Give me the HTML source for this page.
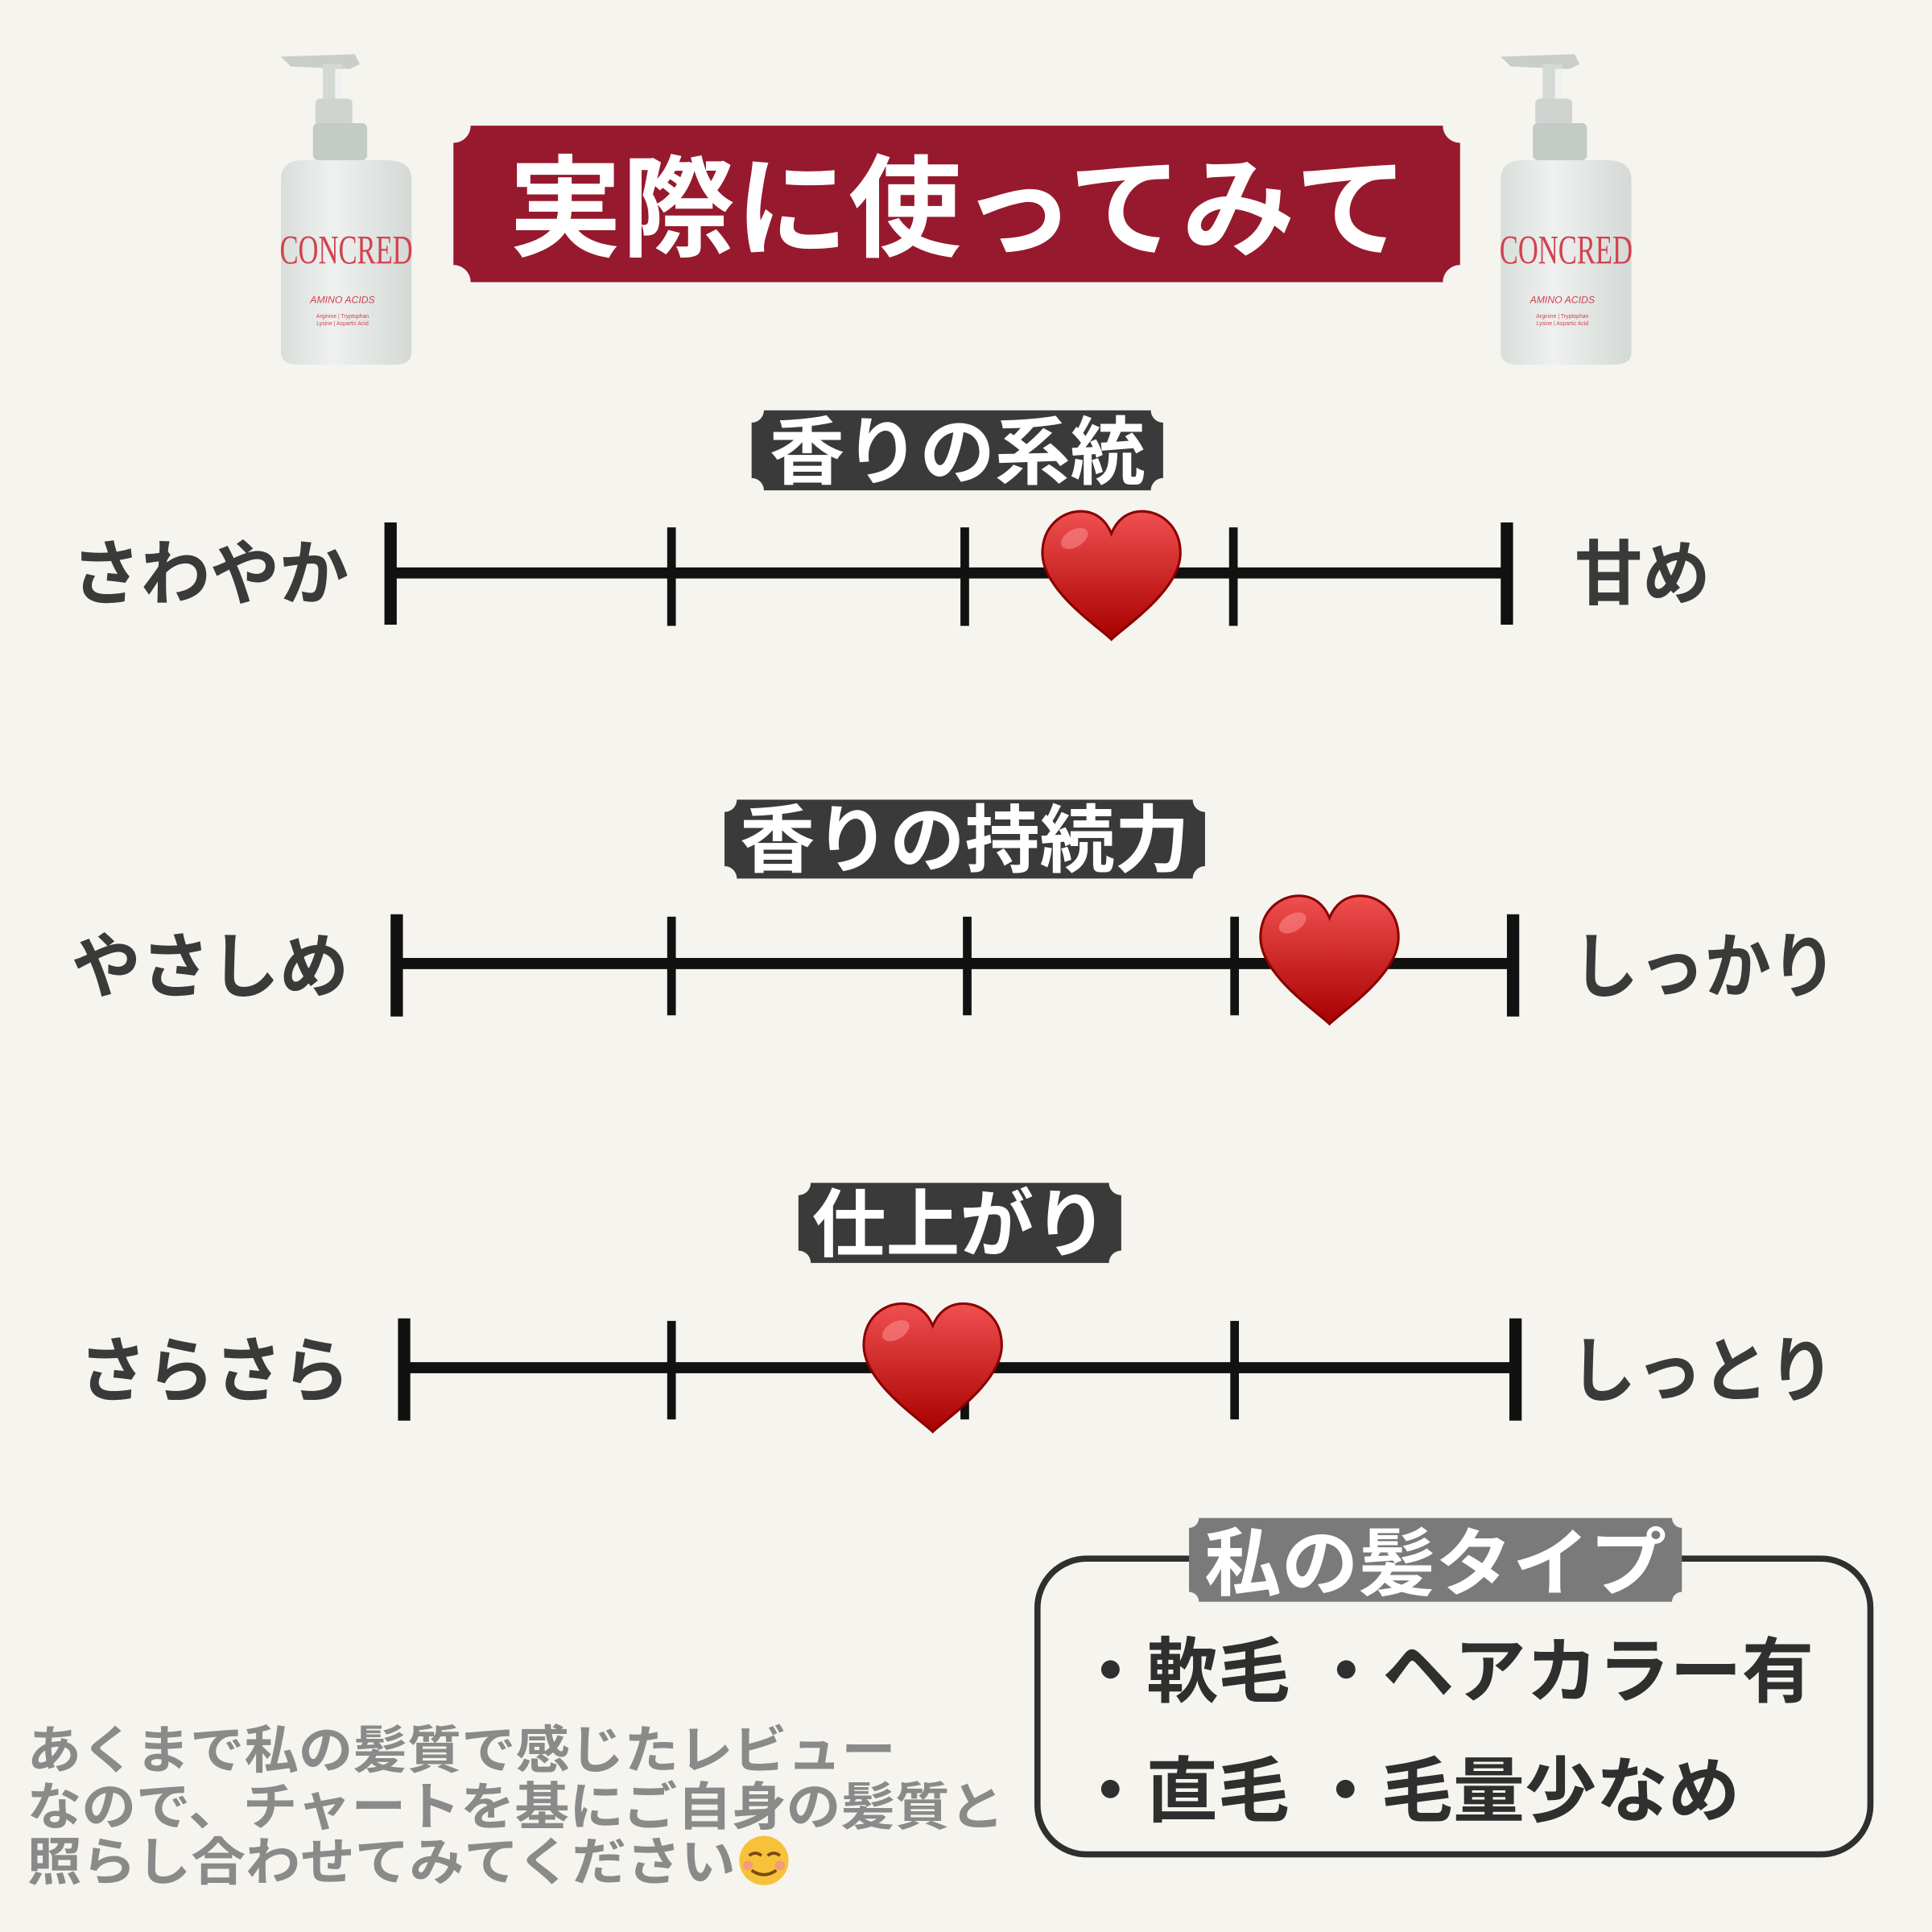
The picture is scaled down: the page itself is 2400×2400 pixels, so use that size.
<!DOCTYPE html>
<html><head><meta charset="utf-8"><style>
html,body{margin:0;padding:0;background:#f6f4ee}
svg{display:block}
text{font-family:"Liberation Sans","Noto Sans CJK JP",sans-serif;font-weight:bold}
</style></head><body>
<svg width="2400" height="2400" viewBox="0 0 1568 1568" xmlns="http://www.w3.org/2000/svg">
<defs>
<linearGradient id="hg" x1="0" y1="0" x2="0" y2="1"><stop offset="0" stop-color="#f05050"/><stop offset="1" stop-color="#a80000"/></linearGradient>
<linearGradient id="bg" x1="0" y1="0" x2="1" y2="0"><stop offset="0" stop-color="#d9dedb"/><stop offset="0.4" stop-color="#eef1ef"/><stop offset="1" stop-color="#d4d9d6"/></linearGradient>
<g id="heart"><path d="M0,52 C-10,42 -56,12 -56,-18 C-56,-40 -40,-52 -25,-52 C-12,-52 -4,-44 0,-34 C4,-44 12,-52 25,-52 C40,-52 56,-40 56,-18 C56,12 10,42 0,52 Z" fill="url(#hg)" stroke="#8a0000" stroke-width="2"/><ellipse cx="-30" cy="-30" rx="12" ry="7" fill="#ff9a9a" opacity="0.5" transform="rotate(-30 -30 -30)"/></g>
<g id="bottle">
<path d="M2,4 L62,2 L66,10 L58,14 L10,12 Z" fill="#c9ceca"/>
<rect x="36" y="10" width="16" height="30" fill="#d5d9d6"/>
<rect x="46" y="14" width="6" height="26" fill="#f0f2f1"/>
<rect x="30" y="38" width="30" height="22" rx="4" fill="#cfd4d1"/>
<rect x="28" y="58" width="44" height="30" rx="4" fill="#c4cac6"/>
<path d="M2,104 Q2,88 20,88 L88,88 Q108,88 108,104 L108,244 Q108,254 94,254 L16,254 Q2,254 2,244 Z" fill="url(#bg)"/>
<text x="55" y="172" style="font-family:'Liberation Serif',serif;font-weight:normal" font-size="33" fill="#d2424f" text-anchor="middle" textLength="108" lengthAdjust="spacingAndGlyphs">CONCRED</text>
<text x="52" y="204" font-size="8" fill="#d2424f" text-anchor="middle" style="font-weight:normal;font-style:italic">AMINO ACIDS</text>
<text x="52" y="216" font-size="4.5" fill="#d2424f" text-anchor="middle" style="font-weight:normal">Arginine | Tryptophan</text>
<text x="52" y="222" font-size="4.5" fill="#d2424f" text-anchor="middle" style="font-weight:normal">Lysine | Aspartic Acid</text>
</g>
</defs>
<rect width="1568" height="1568" fill="#f6f4ee"/>
<use href="#bottle" x="226" y="42"/>
<use href="#bottle" x="1216" y="42"/>
<path d="M382,102 H1171 A14 14 0 0 0 1185,116 V215 A14 14 0 0 0 1171,229 H382 A14 14 0 0 0 368,215 V116 A14 14 0 0 0 382,102 Z" fill="#97192d"/>
<text x="778" y="201" font-size="90" fill="#fff" text-anchor="middle" textLength="730" lengthAdjust="spacingAndGlyphs">実際に使ってみて</text>
<path d="M620,333 H934 A10 10 0 0 0 944,343 V388 A10 10 0 0 0 934,398 H620 A10 10 0 0 0 610,388 V343 A10 10 0 0 0 620,333 Z" fill="#3a3a3a"/>
<text x="777" y="388" font-size="60" fill="#fff" text-anchor="middle" textLength="305" lengthAdjust="spacingAndGlyphs">香りの系統</text>
<path d="M598,649 H968 A10 10 0 0 0 978,659 V703 A10 10 0 0 0 968,713 H598 A10 10 0 0 0 588,703 V659 A10 10 0 0 0 598,649 Z" fill="#3a3a3a"/>
<text x="783" y="703" font-size="60" fill="#fff" text-anchor="middle" textLength="365" lengthAdjust="spacingAndGlyphs">香りの持続力</text>
<path d="M658,960 H900 A10 10 0 0 0 910,970 V1015 A10 10 0 0 0 900,1025 H658 A10 10 0 0 0 648,1015 V970 A10 10 0 0 0 658,960 Z" fill="#3a3a3a"/>
<text x="779" y="1015" font-size="60" fill="#fff" text-anchor="middle" textLength="240" lengthAdjust="spacingAndGlyphs">仕上がり</text>
<g stroke="#111" stroke-linecap="butt">
<line x1="317" y1="465" x2="1224" y2="465" stroke-width="9"/>
<line x1="317" y1="424" x2="317" y2="507" stroke-width="10"/>
<line x1="1223" y1="424" x2="1223" y2="507" stroke-width="10"/>
<line x1="545" y1="428" x2="545" y2="508" stroke-width="7"/>
<line x1="783" y1="428" x2="783" y2="508" stroke-width="7"/>
<line x1="1001" y1="428" x2="1001" y2="508" stroke-width="7"/>
<line x1="322" y1="782" x2="1229" y2="782" stroke-width="9"/>
<line x1="322" y1="742" x2="322" y2="825" stroke-width="10"/>
<line x1="1228" y1="742" x2="1228" y2="825" stroke-width="10"/>
<line x1="545" y1="744" x2="545" y2="824" stroke-width="7"/>
<line x1="785" y1="744" x2="785" y2="824" stroke-width="7"/>
<line x1="1002" y1="744" x2="1002" y2="824" stroke-width="7"/>
<line x1="328" y1="1110" x2="1231" y2="1110" stroke-width="9"/>
<line x1="328" y1="1070" x2="328" y2="1153" stroke-width="10"/>
<line x1="1230" y1="1070" x2="1230" y2="1153" stroke-width="10"/>
<line x1="545" y1="1072" x2="545" y2="1152" stroke-width="7"/>
<line x1="783" y1="1072" x2="783" y2="1152" stroke-width="7"/>
<line x1="1002" y1="1072" x2="1002" y2="1152" stroke-width="7"/>
</g>
<use href="#heart" x="902" y="467"/>
<use href="#heart" x="1079" y="779"/>
<use href="#heart" x="757" y="1110"/>
<g font-size="58" fill="#3a3a3a">
<text x="58" y="486" textLength="225" lengthAdjust="spacingAndGlyphs">さわやか</text>
<text x="1278" y="486" textLength="110" lengthAdjust="spacingAndGlyphs">甘め</text>
<text x="58" y="805" textLength="225" lengthAdjust="spacingAndGlyphs">やさしめ</text>
<text x="1276" y="805" textLength="215" lengthAdjust="spacingAndGlyphs">しっかり</text>
<text x="64" y="1133" textLength="220" lengthAdjust="spacingAndGlyphs">さらさら</text>
<text x="1274" y="1133" textLength="215" lengthAdjust="spacingAndGlyphs">しっとり</text>
</g>
<rect x="842" y="1265" width="676" height="240" rx="40" fill="none" stroke="#2f2f2f" stroke-width="5"/>
<path d="M973,1232 H1357 A8 8 0 0 0 1365,1240 V1292 A8 8 0 0 0 1357,1300 H973 A8 8 0 0 0 965,1292 V1240 A8 8 0 0 0 973,1232 Z" fill="#7a7a7a"/>
<text x="1165" y="1290" font-size="60" fill="#fff" text-anchor="middle" textLength="375" lengthAdjust="spacingAndGlyphs">私の髪タイプ</text>
<g font-size="58" fill="#2f2f2f">
<text x="872" y="1377" textLength="600" lengthAdjust="spacingAndGlyphs">・軟毛 ・ヘアカラー有</text>
<text x="872" y="1474" textLength="540" lengthAdjust="spacingAndGlyphs">・直毛 ・毛量少なめ</text>
</g>
<g font-size="42" fill="#8a8a8a">
<text x="22" y="1435" textLength="705" lengthAdjust="spacingAndGlyphs">あくまで私の髪質で感じたレビュー</text>
<text x="22" y="1481" textLength="793" lengthAdjust="spacingAndGlyphs">なので、チャートを基にご自身の髪質と</text>
<text x="22" y="1526" textLength="575" lengthAdjust="spacingAndGlyphs">照らし合わせてみてください</text>
</g>
<circle cx="620" cy="1510" r="20" fill="#f7c23a"/>
<path d="M608,1506 q5,-4 10,0 M623,1506 q5,-4 10,0 M610,1518 q10,7 20,0" stroke="#7a4a10" stroke-width="2.5" fill="none"/>
<circle cx="607" cy="1514" r="4" fill="#f59a7a"/><circle cx="633" cy="1514" r="4" fill="#f59a7a"/>
</svg>
</body></html>
